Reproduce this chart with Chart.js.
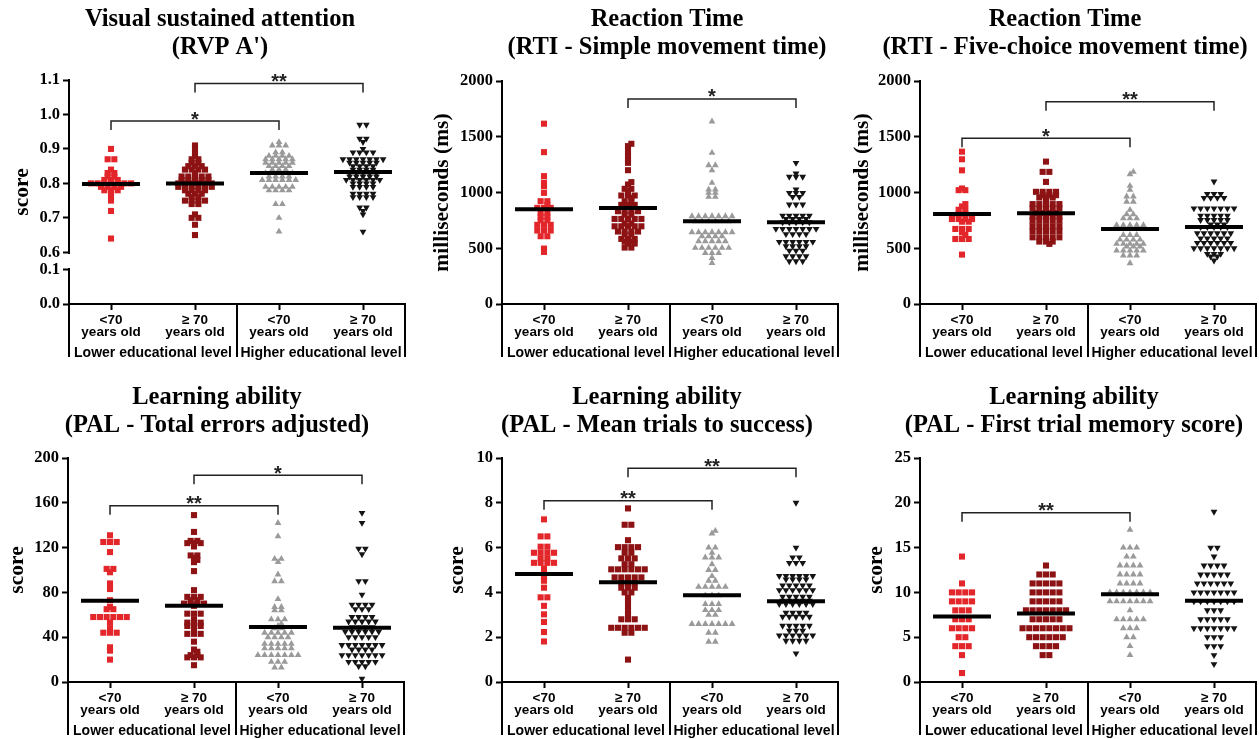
<!DOCTYPE html>
<html>
<head>
<meta charset="utf-8">
<script src="https://cdn.jsdelivr.net/npm/chart.js@4.4.1/dist/chart.umd.min.js"></script>
<style>
  html, body { margin: 0; padding: 0; background: #fff; overflow: hidden; }
  body { position: relative; width: 1259px; height: 739px; }
  canvas { position: absolute; }
</style>
</head>
<body>
<canvas id="rvp"></canvas>
<canvas id="simple"></canvas>
<canvas id="fivechoice"></canvas>
<canvas id="errors"></canvas>
<canvas id="trials"></canvas>
<canvas id="firsttrial"></canvas>
<script>
// ---- shared categories ----
const ageLabels = [['<70', 'years old'], ['\u2265 70', 'years old'], ['<70', 'years old'], ['\u2265 70', 'years old']];
const eduLabels = ['Lower educational level', 'Higher educational level'];
const groupTicks = [1, 2, 3, 4];
const eduCenters = [1.5, 3.5];
const eduBounds = [0.5, 2.5, 4.5];

// ---- RVP A' ----
const rvpTitle = ['Visual sustained attention', "(RVP A')"];
const rvpTicks = [0, 0.1, 0.6, 0.7, 0.8, 0.9, 1.0, 1.1];
const rvpBreak = [0.1, 0.6];
const rvpLowYoung = [0.90, 0.87, 0.87, 0.84, 0.83, 0.83, 0.82, 0.82, 0.81, 0.81, 0.81, 0.80, 0.80, 0.80, 0.80, 0.80, 0.80, 0.80, 0.79, 0.79, 0.79, 0.79, 0.78, 0.78, 0.78, 0.77, 0.76, 0.75, 0.72, 0.64];
const rvpLowOld = [0.91, 0.90, 0.89, 0.88, 0.87, 0.87, 0.86, 0.86, 0.85, 0.85, 0.85, 0.84, 0.84, 0.84, 0.84, 0.83, 0.82, 0.82, 0.82, 0.82, 0.82, 0.81, 0.81, 0.81, 0.81, 0.81, 0.80, 0.80, 0.80, 0.80, 0.80, 0.80, 0.79, 0.79, 0.79, 0.79, 0.79, 0.79, 0.78, 0.78, 0.78, 0.78, 0.77, 0.77, 0.77, 0.76, 0.76, 0.75, 0.75, 0.75, 0.75, 0.74, 0.74, 0.71, 0.70, 0.70, 0.68, 0.65];
const rvpHighYoung = [0.92, 0.91, 0.91, 0.91, 0.89, 0.89, 0.88, 0.88, 0.88, 0.88, 0.87, 0.87, 0.87, 0.87, 0.87, 0.86, 0.86, 0.86, 0.86, 0.86, 0.85, 0.85, 0.85, 0.85, 0.84, 0.84, 0.84, 0.83, 0.83, 0.83, 0.83, 0.83, 0.82, 0.82, 0.82, 0.82, 0.81, 0.81, 0.81, 0.81, 0.81, 0.81, 0.79, 0.79, 0.79, 0.79, 0.79, 0.78, 0.78, 0.78, 0.78, 0.74, 0.74, 0.70, 0.66];
const rvpHighOld = [0.97, 0.97, 0.93, 0.93, 0.92, 0.90, 0.89, 0.89, 0.89, 0.89, 0.87, 0.87, 0.87, 0.87, 0.87, 0.87, 0.87, 0.86, 0.86, 0.86, 0.86, 0.86, 0.85, 0.85, 0.85, 0.85, 0.84, 0.84, 0.84, 0.84, 0.83, 0.83, 0.83, 0.83, 0.83, 0.82, 0.82, 0.82, 0.82, 0.82, 0.81, 0.81, 0.81, 0.81, 0.81, 0.81, 0.80, 0.80, 0.80, 0.80, 0.79, 0.79, 0.79, 0.79, 0.77, 0.77, 0.77, 0.77, 0.76, 0.76, 0.76, 0.76, 0.73, 0.73, 0.72, 0.71, 0.66];
const rvpMedians = [0.798, 0.80, 0.83, 0.833];
const rvpBrackets = [{ from: 1, to: 3, y: 0.981, label: '*' }, { from: 2, to: 4, y: 1.09, label: '**' }];

// ---- RTI simple movement time ----
const simpleTitle = ['Reaction Time', '(RTI - Simple movement time)'];
const msTicks = [0, 500, 1000, 1500, 2000];
const simpleLowYoung = [1617, 1362, 1147, 1087, 1057, 997, 922, 922, 887, 862, 862, 862, 817, 817, 782, 782, 752, 752, 710, 710, 710, 659, 659, 659, 608, 608, 497, 467];
const simpleLowOld = [1437, 1416, 1371, 1332, 1296, 1266, 1200, 1093, 1072, 1033, 1033, 1012, 973, 973, 973, 952, 922, 922, 889, 889, 889, 871, 871, 832, 832, 832, 832, 802, 802, 763, 763, 763, 763, 763, 721, 721, 697, 697, 697, 697, 697, 650, 650, 650, 650, 623, 623, 584, 584, 584, 560, 560, 542, 542, 506, 506];
const simpleHighYoung = [1637, 1356, 1245, 1245, 1198, 1087, 1027, 1027, 997, 997, 961, 961, 787, 787, 787, 787, 787, 787, 787, 742, 742, 742, 742, 742, 742, 644, 644, 644, 644, 644, 644, 644, 608, 608, 608, 608, 563, 563, 563, 563, 563, 503, 503, 503, 503, 503, 503, 458, 458, 458, 413, 368];
const simpleHighOld = [1266, 1170, 1141, 1141, 1141, 1027, 997, 997, 997, 961, 961, 892, 892, 892, 793, 793, 793, 793, 793, 763, 763, 763, 763, 733, 733, 733, 733, 733, 673, 673, 673, 673, 673, 673, 673, 626, 626, 626, 626, 557, 557, 557, 557, 557, 557, 518, 518, 518, 518, 479, 479, 479, 428, 428, 428, 428, 383, 383, 383];
const simpleMedians = [850, 862, 743, 733];
const simpleBrackets = [{ from: 2, to: 4, y: 1839, label: '*' }];

// ---- RTI five-choice movement time ----
const fiveTitle = ['Reaction Time', '(RTI - Five-choice movement time)'];
const fiveLowYoung = [1366, 1298, 1199, 1036, 1021, 1021, 896, 875, 845, 845, 807, 807, 762, 762, 762, 762, 738, 738, 673, 673, 673, 643, 619, 583, 583, 583, 443];
const fiveLowOld = [1277, 1185, 1185, 1095, 1006, 1006, 1006, 1006, 976, 976, 976, 955, 955, 955, 926, 896, 896, 896, 896, 896, 857, 857, 857, 857, 857, 815, 815, 815, 815, 786, 786, 786, 786, 786, 747, 747, 747, 747, 747, 696, 696, 696, 696, 696, 652, 652, 652, 652, 652, 598, 598, 598, 598, 598, 560, 560, 560, 539];
const fiveHighYoung = [1185, 1164, 1060, 1024, 964, 964, 917, 917, 845, 804, 804, 768, 768, 768, 708, 708, 708, 708, 708, 679, 679, 679, 679, 679, 619, 619, 619, 577, 577, 577, 577, 539, 539, 539, 539, 539, 515, 515, 515, 479, 479, 479, 479, 479, 435, 435, 435, 366];
const fiveHighOld = [1098, 988, 988, 988, 952, 952, 952, 952, 857, 857, 857, 857, 857, 857, 857, 792, 792, 792, 792, 792, 753, 753, 753, 753, 753, 714, 714, 714, 690, 690, 690, 690, 690, 634, 634, 634, 634, 634, 634, 589, 589, 589, 589, 589, 548, 548, 548, 548, 548, 548, 500, 500, 500, 500, 500, 500, 500, 449, 449, 449, 426, 426, 390];
const fiveMedians = [807, 815, 673, 690];
const fiveBrackets = [{ from: 1, to: 3, y: 1486, label: '*' }, { from: 2, to: 4, y: 1814, label: '**' }];

// ---- PAL total errors adjusted ----
const errorsTitle = ['Learning ability', '(PAL - Total errors adjusted)'];
const errorsTicks = [0, 40, 80, 120, 160, 200];
const errorsLowYoung = [131, 125, 125, 125, 116, 101, 101, 98, 88, 83, 73, 67, 65, 65, 58, 58, 58, 58, 58, 58, 53, 48, 44, 44, 44, 31, 28, 20];
const errorsLowOld = [149, 134, 126, 126, 124, 124, 124, 121, 113, 113, 111, 109, 107, 99, 82, 76, 76, 76, 73, 73, 70, 70, 70, 70, 68, 61, 61, 61, 56, 53, 53, 53, 50, 50, 50, 47, 43, 43, 43, 36, 29, 27, 24, 24, 22, 22, 22, 15];
const errorsHighYoung = [142, 130, 110, 110, 107, 96, 90, 90, 74, 67, 67, 64, 64, 56, 56, 56, 52, 50, 48, 48, 44, 44, 44, 44, 44, 40, 40, 40, 40, 34, 34, 34, 34, 34, 30, 30, 30, 30, 30, 24, 24, 24, 24, 24, 24, 24, 18, 18, 18, 13, 13];
const errorsHighOld = [151, 142, 119, 119, 114, 90, 90, 78, 69, 69, 69, 69, 65, 65, 65, 58, 58, 58, 58, 54, 54, 54, 54, 54, 49, 49, 49, 49, 45, 45, 45, 45, 45, 45, 40, 40, 40, 40, 40, 33, 33, 33, 33, 33, 33, 33, 29, 29, 29, 29, 24, 24, 24, 24, 24, 24, 24, 18, 18, 18, 18, 18, 14, 14, 3];
const errorsMedians = [72.5, 68, 49, 48.5];
const errorsBrackets = [{ from: 1, to: 3, y: 157.4, label: '**' }, { from: 2, to: 4, y: 184.5, label: '*' }];

// ---- PAL mean trials to success ----
const trialsTitle = ['Learning ability', '(PAL - Mean trials to success)'];
const trialsTicks = [0, 2, 4, 6, 8, 10];
const trialsLowYoung = [7.26, 6.5, 6.5, 6.04, 6.04, 5.77, 5.77, 5.77, 5.77, 5.52, 5.52, 5.32, 5.32, 5.32, 5.32, 5.07, 4.82, 4.67, 4.52, 4.21, 3.78, 3.78, 3.4, 3.02, 2.68, 2.23, 1.81];
const trialsLowOld = [7.75, 7.02, 7.02, 6.33, 6.02, 6.02, 6.02, 6.02, 5.77, 5.77, 5.52, 5.52, 5.52, 5.26, 5.26, 5.03, 5.03, 5.03, 5.03, 5.03, 5.03, 4.67, 4.67, 4.67, 4.67, 4.67, 4.43, 4.43, 4.43, 4.21, 4.21, 4.21, 4.0, 4.0, 3.76, 3.61, 3.4, 3.2, 3.02, 2.8, 2.8, 2.8, 2.42, 2.42, 2.42, 2.42, 2.42, 2.42, 2.2, 2.2, 1.0];
const trialsHighYoung = [6.75, 6.63, 6.0, 6.0, 5.77, 5.56, 5.56, 5.56, 5.26, 5.0, 5.0, 4.73, 4.52, 4.52, 4.25, 4.25, 4.25, 4.25, 4.25, 3.87, 3.87, 3.87, 3.48, 3.48, 3.48, 3.21, 3.21, 3.21, 3.0, 3.0, 2.59, 2.59, 2.59, 2.59, 2.59, 2.59, 2.59, 2.2, 2.2, 1.8, 1.8];
const trialsHighOld = [8.0, 6.0, 5.56, 5.56, 5.32, 5.32, 5.32, 4.73, 4.73, 4.73, 4.73, 4.73, 4.73, 4.58, 4.58, 4.58, 4.58, 4.31, 4.31, 4.31, 4.31, 4.31, 4.1, 4.1, 4.1, 4.1, 4.1, 4.1, 3.81, 3.81, 3.81, 3.81, 3.81, 3.63, 3.63, 3.63, 3.63, 3.63, 3.48, 3.48, 3.48, 3.48, 3.48, 3.48, 3.09, 3.09, 3.09, 3.09, 2.91, 2.91, 2.91, 2.91, 2.91, 2.51, 2.51, 2.51, 2.51, 2.51, 2.29, 2.29, 2.29, 2.08, 2.08, 2.08, 2.08, 2.08, 2.08, 1.84, 1.84, 1.84, 1.84, 1.28];
const trialsMedians = [4.82, 4.45, 3.87, 3.6];
const trialsBrackets = [{ from: 1, to: 3, y: 8.09, label: '**' }, { from: 2, to: 4, y: 9.54, label: '**' }];

// ---- PAL first trial memory score ----
const firstTitle = ['Learning ability', '(PAL - First trial memory score)'];
const firstTicks = [0, 5, 10, 15, 20, 25];
const firstLowYoung = [14, 11, 10, 10, 10, 10, 9, 9, 9, 9, 8, 8, 8, 7, 7, 7, 6, 6, 6, 6, 5, 5, 4, 4, 4, 3, 1];
const firstLowOld = [13, 12, 12, 12, 11, 11, 11, 11, 11, 10, 10, 10, 10, 10, 9, 9, 9, 9, 9, 8, 8, 8, 8, 8, 8, 8, 7, 7, 7, 7, 7, 6, 6, 6, 6, 6, 6, 6, 6, 5, 5, 5, 5, 5, 5, 4, 4, 4, 4, 3, 3];
const firstHighYoung = [17, 15, 15, 15, 14, 14, 13, 13, 13, 13, 12, 12, 12, 12, 11, 11, 11, 11, 10, 10, 10, 10, 10, 10, 10, 9, 9, 9, 9, 9, 9, 9, 8, 7, 7, 7, 7, 7, 6, 6, 6, 5, 5, 4, 3];
const firstHighOld = [19, 15, 15, 14, 13, 13, 13, 13, 12, 12, 12, 12, 12, 11, 11, 11, 11, 11, 11, 10, 10, 10, 10, 10, 10, 10, 9, 9, 9, 9, 9, 9, 9, 8, 8, 8, 7, 7, 7, 7, 7, 6, 6, 6, 6, 6, 6, 6, 5, 5, 5, 4, 4, 4, 3, 2];
const firstMedians = [7.3, 7.65, 9.8, 9.07];
const firstBrackets = [{ from: 1, to: 3, y: 18.9, label: '**' }];

// ---- styles ----
const SERIF = '"Liberation Serif", "Times New Roman", serif';
const SANS = '"Liberation Sans", Arial, sans-serif';
const markerColors = ['#e3262a', '#8c1214', '#9a9a9a', '#141414'];
const markerStyles = ['rect', 'rect', 'triangle', 'triangle'];
const markerRotation = [0, 0, 0, 180];
const markerRadius = [4.3, 4.3, 3.9, 3.9];
const STEP = 6.7;      // horizontal spacing of points in a row (px)
const MIN_DX = 3.0;
const MIN_DY = 3.0;
const BREAK_GAP = 0.05;

Chart.defaults.color = '#000';
Chart.defaults.font.family = SANS;

// y axis with a gap between 0.1 and 0.6
function warpRvp(v) {
  const [lo, hi] = rvpBreak;
  if (v <= lo) return v;
  if (v >= hi) return v - hi + lo + BREAK_GAP;
  return lo + (v - lo) / (hi - lo) * BREAK_GAP;
}
function unwarpRvp(w) {
  const [lo, hi] = rvpBreak;
  if (w <= lo) return w;
  if (w >= lo + BREAK_GAP) return w + hi - lo - BREAK_GAP;
  return lo + (w - lo) / BREAK_GAP * (hi - lo);
}
class BrokenScale extends Chart.LinearScale {
  static id = 'broken';
  getPixelForValue(v) { return super.getPixelForValue(warpRvp(v)); }
  getValueForPixel(px) { return unwarpRvp(super.getValueForPixel(px)); }
}
Chart.register(BrokenScale);

const panels = [
  { id: 'rvp', title: rvpTitle, yTitle: 'score', groups: [rvpLowYoung, rvpLowOld, rvpHighYoung, rvpHighOld],
    medians: rvpMedians, brackets: rvpBrackets, yType: 'broken', yTicks: rvpTicks, yMax: warpRvp(1.1),
    fmt: v => v.toFixed(1), hasBreak: true,
    box: { left: 0, top: 0, width: 440, plotLeft: 69, plotRight: 405, plotTop: 80, plotBottom: 304, titleTop: 5, yTitlePad: 10 } },
  { id: 'simple', title: simpleTitle, yTitle: 'milliseconds (ms)', groups: [simpleLowYoung, simpleLowOld, simpleHighYoung, simpleHighOld],
    medians: simpleMedians, brackets: simpleBrackets, yType: 'linear', yTicks: msTicks, yMax: 2000, fmt: v => String(v),
    box: { left: 430, top: 0, width: 474, plotLeft: 72, plotRight: 408, plotTop: 81, plotBottom: 304, titleTop: 5, yTitlePad: 0 } },
  { id: 'fivechoice', title: fiveTitle, yTitle: 'milliseconds (ms)', groups: [fiveLowYoung, fiveLowOld, fiveHighYoung, fiveHighOld],
    medians: fiveMedians, brackets: fiveBrackets, yType: 'linear', yTicks: msTicks, yMax: 2000, fmt: v => String(v),
    box: { left: 840, top: 0, width: 450, plotLeft: 80, plotRight: 416, plotTop: 81, plotBottom: 304, titleTop: 5, yTitlePad: 10 } },
  { id: 'errors', title: errorsTitle, yTitle: 'score', groups: [errorsLowYoung, errorsLowOld, errorsHighYoung, errorsHighOld],
    medians: errorsMedians, brackets: errorsBrackets, yType: 'linear', yTicks: errorsTicks, yMax: 200, fmt: v => String(v),
    box: { left: 0, top: 370, width: 434, plotLeft: 68, plotRight: 404, plotTop: 88, plotBottom: 312, titleTop: 13, yTitlePad: 5 } },
  { id: 'trials', title: trialsTitle, yTitle: 'score', groups: [trialsLowYoung, trialsLowOld, trialsHighYoung, trialsHighOld],
    medians: trialsMedians, brackets: trialsBrackets, yType: 'linear', yTicks: trialsTicks, yMax: 10, fmt: v => String(v),
    box: { left: 430, top: 370, width: 454, plotLeft: 72, plotRight: 408, plotTop: 88, plotBottom: 312, titleTop: 13, yTitlePad: 15 } },
  { id: 'firsttrial', title: firstTitle, yTitle: 'score', groups: [firstLowYoung, firstLowOld, firstHighYoung, firstHighOld],
    medians: firstMedians, brackets: firstBrackets, yType: 'linear', yTicks: firstTicks, yMax: 25, fmt: v => String(v),
    box: { left: 840, top: 370, width: 468, plotLeft: 80, plotRight: 416, plotTop: 88, plotBottom: 312, titleTop: 13, yTitlePad: 24 } }
];

const CANVAS_H = 370;
const TITLE_LH = 28;

// medians, significance brackets, education groups and the axis break
function overlay(p) {
  return {
    id: 'overlay',
    afterDatasetsDraw(chart) {
      const ctx = chart.ctx, xs = chart.scales.x, ys = chart.scales.y;
      ctx.save();
      ctx.strokeStyle = '#000';
      ctx.lineWidth = 4;
      p.medians.forEach((m, g) => {
        const py = ys.getPixelForValue(m);
        ctx.beginPath();
        ctx.moveTo(xs.getPixelForValue(g + 1 - 0.345), py);
        ctx.lineTo(xs.getPixelForValue(g + 1 + 0.345), py);
        ctx.stroke();
      });
      ctx.lineWidth = 1.5;
      ctx.strokeStyle = '#222';
      ctx.fillStyle = '#222';
      ctx.font = 'bold 20px ' + SANS;
      ctx.textAlign = 'center';
      ctx.textBaseline = 'alphabetic';
      p.brackets.forEach(b => {
        const xa = xs.getPixelForValue(b.from), xb = xs.getPixelForValue(b.to), py = ys.getPixelForValue(b.y);
        ctx.beginPath();
        ctx.moveTo(xa, py + 9);
        ctx.lineTo(xa, py);
        ctx.lineTo(xb, py);
        ctx.lineTo(xb, py + 9);
        ctx.stroke();
        ctx.fillText(b.label, (xa + xb) / 2, py + 4.5);
      });
      ctx.restore();
    },
    afterDraw(chart) {
      const ctx = chart.ctx, xs = chart.scales.x, ys = chart.scales.y;
      const y0 = chart.chartArea.bottom;
      ctx.save();
      ctx.strokeStyle = '#000';
      ctx.lineWidth = 2;
      eduBounds.forEach(v => {
        const px = xs.getPixelForValue(v);
        ctx.beginPath();
        ctx.moveTo(px, y0);
        ctx.lineTo(px, y0 + 53);
        ctx.stroke();
      });
      ctx.fillStyle = '#000';
      ctx.font = 'bold 14px ' + SANS;
      ctx.textAlign = 'center';
      ctx.textBaseline = 'middle';
      eduLabels.forEach((t, i) => ctx.fillText(t, xs.getPixelForValue(eduCenters[i]), y0 + 49));
      if (p.hasBreak) {
        const top = ys.getPixelForValue(rvpBreak[1]), bottom = ys.getPixelForValue(rvpBreak[0]);
        ctx.clearRect(chart.chartArea.left - 3, top + 1.5, 6, bottom - top - 3);
      }
      ctx.restore();
    }
  };
}

// place points of equal value side by side, staggering rows that would overlap
function layoutSwarm(chart, p) {
  const xs = chart.scales.x, ys = chart.scales.y;
  const unit = xs.getPixelForValue(1) - xs.getPixelForValue(0);
  p.groups.forEach((vals, g) => {
    const counts = new Map();
    vals.forEach(v => counts.set(v, (counts.get(v) || 0) + 1));
    const med = p.medians[g];
    const rows = [...counts.entries()].sort((a, b) => b[1] - a[1] || Math.abs(a[0] - med) - Math.abs(b[0] - med));
    const placed = [];
    rows.forEach(([v, n]) => {
      const py = ys.getPixelForValue(v);
      const offs = [];
      for (let i = 0; i < n; i++) offs.push((i - (n - 1) / 2) * STEP);
      let shift = 0;
      for (let k = 0; k < 80; k++) {
        const c = (k % 2 ? 1 : -1) * Math.ceil(k / 2) * STEP / 2;
        const clear = offs.every(o => placed.every(q => Math.abs(q.py - py) >= MIN_DY || Math.abs(q.px - (o + c)) >= MIN_DX));
        if (clear) { shift = c; break; }
      }
      offs.forEach(o => placed.push({ px: o + shift, py, v }));
    });
    chart.data.datasets[g].data = placed.map(q => ({ x: g + 1 + q.px / unit, y: q.v }));
  });
}

panels.forEach(p => {
  const cv = document.getElementById(p.id);
  cv.width = p.box.width;
  cv.height = CANVAS_H;
  cv.style.left = p.box.left + 'px';
  cv.style.top = p.box.top + 'px';

  const datasets = p.groups.map((vals, g) => ({
    data: vals.map(v => ({ x: g + 1, y: v })),
    pointStyle: markerStyles[g],
    rotation: markerRotation[g],
    pointRadius: markerRadius[g],
    backgroundColor: markerColors[g],
    borderWidth: 0,
    clip: false
  }));

  const chart = new Chart(cv, {
    type: 'scatter',
    data: { datasets },
    options: {
      responsive: false,
      animation: false,
      events: [],
      layout: { padding: 0 },
      plugins: {
        legend: { display: false },
        tooltip: { enabled: false },
        title: {
          display: true,
          text: p.title,
          color: '#000',
          font: { family: SERIF, size: 24.5, weight: 'bold', lineHeight: TITLE_LH + 'px' },
          padding: { top: p.box.titleTop + 1, bottom: p.box.plotTop - p.box.titleTop - 1 - TITLE_LH * p.title.length }
        }
      },
      scales: {
        x: {
          type: 'linear',
          min: 0.5,
          max: 4.5,
          afterBuildTicks: s => { s.ticks = groupTicks.map(v => ({ value: v })); },
          afterFit: s => { s.height = CANVAS_H - p.box.plotBottom; },
          border: { color: '#000', width: 2 },
          grid: { drawOnChartArea: false, tickLength: 6, tickWidth: 2, tickColor: '#000' },
          ticks: {
            autoSkip: false, maxRotation: 0, padding: 4, color: '#000',
            font: { family: SANS, size: 13.5, weight: 'bold', lineHeight: '12px' },
            callback: (v, i) => ageLabels[i]
          }
        },
        y: {
          type: p.yType,
          min: 0,
          max: p.yMax,
          afterBuildTicks: s => { s.ticks = p.yTicks.map(v => ({ value: v })); },
          afterFit: s => { s.width = p.box.plotLeft; },
          border: { color: '#000', width: 2 },
          grid: { drawOnChartArea: false, tickLength: 6, tickWidth: 2, tickColor: '#000' },
          ticks: {
            autoSkip: false, padding: 3, color: '#000',
            font: { family: SERIF, size: 16.5, weight: 'bold' },
            callback: (v, i) => p.fmt(p.yTicks[i])
          },
          title: {
            display: true, text: p.yTitle, color: '#000',
            font: { family: SERIF, size: 21.5, weight: 'bold' },
            padding: { top: p.box.yTitlePad, bottom: 0 }
          }
        },
        spacer: {
          type: 'linear',
          position: 'right',
          display: true,
          afterFit: s => { s.width = p.box.width - p.box.plotRight; },
          grid: { display: false },
          border: { display: false },
          ticks: { display: false }
        }
      }
    },
    plugins: [overlay(p)]
  });

  layoutSwarm(chart, p);
  chart.update('none');
});
</script>
</body>
</html>
